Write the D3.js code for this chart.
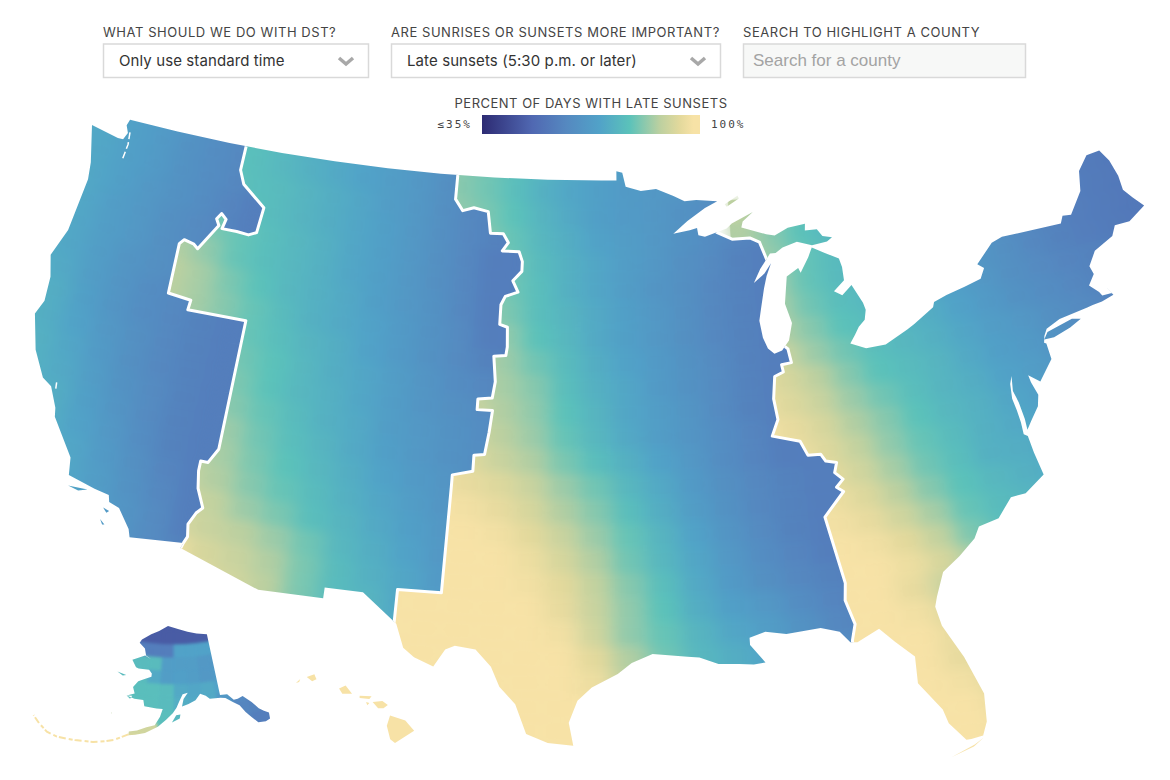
<!DOCTYPE html>
<html lang="en">
<head>
  <meta charset="UTF-8">
  <title>Percent of days with late sunsets</title>
  <style>
    html, body { margin: 0; background: #fff; }
    svg { display: block; }
    text { font-family: Inter, "Noto Sans", sans-serif; }
  </style>
  <script src="https://d3js.org/d3.v7.min.js"></script>
</head>
<body>
  <svg width="1170" height="780"></svg>

  <script>
    // Control labels
    var controlLabels = ["WHAT SHOULD WE DO WITH DST?", "ARE SUNRISES OR SUNSETS MORE IMPORTANT?", "SEARCH TO HIGHLIGHT A COUNTY"];
    var controlValues = ["Only use standard time", "Late sunsets (5:30 p.m. or later)", "Search for a county"];

    // Legend
    var legendTitle = "PERCENT OF DAYS WITH LATE SUNSETS";
    var legendTicks = ["\u226435%", "100%"];
    var colorStops = [35, 50, 60, 70, 79, 88, 94, 98];
    var colorValues = ["#2d2b73", "#5068b2", "#5588c0", "#51a2c8", "#5bc2ba", "#bcd0a0", "#e3d99c", "#f7e2a6"];

    // Percent of days. Rows run north to south, columns west to east.
    var pacificLon = -126, pacificLonStep = 1.5, pacificLatTop = 50;
    var pacificPercent = [
      [72,71,69,67,65,62,60,58],
      [72,71,69,67,64,62,60,58],
      [72,71,69,67,64,62,60,58],
      [73,71,69,66,64,62,59,57],
      [73,71,68,66,63,61,59,57],
      [73,71,68,66,63,61,59,57],
      [73,71,68,65,63,61,59,57],
      [73,72,68,65,62,60,59,57],
      [74,73,69,65,62,60,58,57],
      [75,73,70,66,63,60,58,57],
      [75,74,71,67,63,60,58,57],
      [75,74,72,68,64,61,58,57],
      [75,74,73,69,65,61,58,57],
      [75,74,73,70,66,62,58,57],
      [75,74,73,71,67,63,59,57],
      [75,74,73,71,68,64,60,57],
      [75,74,73,71,69,65,61,57],
      [75,74,73,71,69,65,61,58]
    ];

    var mountainLon = -119, mountainLonStep = 1.5, mountainLatTop = 50;
    var mountainPercent = [
      [80,79,78,76,73,72,70,68,66,63,60,58,58],
      [81,79,78,76,74,72,70,68,66,63,60,58,57],
      [82,80,78,77,75,73,71,68,66,63,60,58,57],
      [83,80,79,77,75,73,71,69,66,63,60,58,57],
      [85,82,80,78,76,74,71,69,66,63,60,57,57],
      [87,84,80,78,76,74,71,69,66,63,60,57,57],
      [88,86,82,79,76,74,72,69,66,64,60,57,57],
      [88,86,83,80,77,74,72,70,67,64,61,57,57],
      [88,86,83,80,78,75,73,70,67,64,61,58,57],
      [88,86,84,81,79,76,73,71,68,65,62,60,58],
      [89,87,85,82,79,76,74,71,68,65,63,61,60],
      [89,88,85,83,80,77,74,72,68,66,64,62,60],
      [90,89,87,85,81,78,75,72,69,66,64,62,60],
      [91,90,88,86,82,79,76,73,70,67,65,62,60],
      [92,91,89,87,83,80,77,74,71,68,65,63,60],
      [94,93,91,89,85,82,78,75,72,69,66,63,60],
      [96,95,92,90,88,85,81,76,73,70,66,63,60],
      [98,98,96,92,90,87,82,77,74,71,67,64,60],
      [100,100,97,93,91,88,82,77,75,71,67,64,60],
      [100,100,98,93,91,88,82,77,75,72,68,64,60]
    ];

    var centralLon = -106, centralLonStep = 1.5, centralLatTop = 50;
    var centralPercent = [
      [84,83,81,78,75,72,70,68,67,65,64,63,62,61,60],
      [85,83,81,78,74,71,69,67,66,65,63,62,61,60,59],
      [86,84,82,79,75,72,69,67,66,64,62,60,59,58,58],
      [87,85,83,80,76,73,70,68,66,64,62,59,58,57,57],
      [87,85,84,81,77,74,71,68,66,63,61,58,57,57,57],
      [88,86,84,81,78,74,71,68,65,63,60,58,57,57,57],
      [89,87,85,82,78,75,72,69,66,63,60,58,57,57,57],
      [90,88,86,84,79,76,72,69,66,63,60,58,57,57,57],
      [92,90,88,85,81,77,73,70,67,64,61,58,57,57,57],
      [93,91,88,86,83,78,74,71,67,64,61,58,57,57,57],
      [94,92,90,87,84,79,75,71,68,65,61,58,57,57,57],
      [96,94,91,88,85,80,76,72,68,65,62,59,57,57,57],
      [97,95,93,90,87,82,78,74,70,66,62,59,57,57,57],
      [98,97,95,93,90,85,81,76,72,67,63,60,58,57,57],
      [99,98,97,95,92,87,83,78,73,68,64,60,58,57,57],
      [100,99,98,97,94,90,85,80,75,70,65,61,58,57,57],
      [100,100,99,98,96,92,87,81,76,71,66,62,59,57,57],
      [100,100,100,99,97,94,89,83,78,72,67,63,60,58,57],
      [100,100,100,100,98,95,90,84,79,73,69,66,62,59,57],
      [100,100,100,100,99,97,91,84,80,75,71,68,64,60,58],
      [100,100,100,100,100,98,94,87,81,76,73,70,66,62,60],
      [100,100,100,100,100,99,96,88,82,77,74,71,67,64,62],
      [100,100,100,100,100,100,98,90,82,78,75,72,68,66,64],
      [100,100,100,100,100,100,99,92,83,78,75,72,69,67,65],
      [100,100,100,100,100,100,100,94,84,78,75,72,70,68,66]
    ];

    var easternLon = -89, easternLonStep = 1.5, easternLatTop = 48;
    var easternPercent = [
      [88,84,80,77,75,72,70,68,66,63,60,58,57,56,55],
      [87,83,79,76,74,72,70,68,65,62,60,58,57,56,55],
      [87,84,80,77,75,73,71,68,65,62,60,58,57,56,55],
      [88,85,80,77,75,73,71,68,65,63,60,58,57,56,55],
      [89,86,81,78,76,74,72,69,66,63,61,59,58,57,56],
      [91,87,83,79,77,75,73,70,67,64,62,60,58,57,56],
      [93,90,85,81,78,76,74,71,68,66,63,61,59,58,57],
      [95,92,88,83,79,77,75,72,69,67,64,62,60,59,58],
      [96,93,90,85,81,78,75,73,70,68,65,63,61,60,59],
      [97,95,92,87,83,79,76,74,71,69,66,64,62,61,60],
      [98,96,93,89,84,80,77,74,72,70,67,65,63,62,61],
      [99,97,94,91,86,81,78,74,73,71,68,66,64,63,62],
      [100,98,96,93,88,83,79,76,74,72,69,67,65,64,63],
      [100,99,97,95,91,86,80,77,75,73,70,68,66,65,64],
      [100,100,98,97,94,89,82,78,76,74,71,69,67,66,65],
      [100,100,99,98,96,92,86,80,77,75,72,70,68,67,66],
      [100,100,100,99,95,90,86,81,78,76,73,71,69,68,67],
      [100,100,100,99,97,93,88,83,79,77,74,72,70,69,68],
      [100,100,100,100,98,95,90,85,80,78,75,73,71,70,69],
      [100,100,100,100,99,95,91,86,81,79,76,74,72,71,70],
      [100,100,100,100,100,97,93,88,82,80,77,75,73,72,71],
      [100,100,100,100,100,100,95,90,84,81,78,76,74,73,72],
      [100,100,100,100,100,100,97,92,86,82,79,77,75,74,73],
      [100,100,100,100,100,100,98,94,88,83,80,78,76,75,74]
    ];

    var alaskaLon = -190, alaskaLonStep = 4, alaskaLatTop = 72.5, alaskaLatStep = 2;
    var alaskaPercent = [
      [47,47,47,47,47,47,47,47,47,47,47,47,47,47,47,47],
      [47,47,47,47,47,47,47,47,47,47,47,47,47,47,47,47],
      [57,57,57,57,57,57,57,57,57,70,70,70,70,70,70,70],
      [77,77,77,77,77,77,77,77,68,68,68,66,66,66,66,66],
      [77,77,77,77,77,77,77,72,68,69,68,66,67,67,67,67],
      [78,78,78,78,78,78,78,78,77,72,71,72,70,70,70,70],
      [78,78,78,78,78,78,78,78,77,73,72,72,66,60,58,58],
      [88,88,88,88,88,88,84,80,78,76,72,72,66,59,58,58],
      [99,99,99,99,99,96,91,91,78,76,72,72,66,58,57,57],
      [99,99,99,99,99,99,93,92,88,76,72,72,66,58,57,57],
      [99,99,99,99,99,99,99,99,99,99,99,99,99,99,99,99]
    ];
    var hawaiiPercent = 100;
    var aleutianPercent = 99;

    // Time zone lines as [lon, lat]
    var pacificMountainLine = [[-116.05,49],[-116.05,48],[-115.7,47.45],[-114.35,46.65],[-114.45,45.6],[-114.85,45.45],[-115.5,45.5],[-116.3,45.5],[-116.2,45.9],[-116.5,46.1],[-116.7,45.85],[-116.5,45.6],[-117.3,44.5],[-117.55,44.65],[-118.1,44.75],[-118.3,44.55],[-118.2,42.5],[-117,42.4],[-117.03,42],[-114.04,42],[-114.04,36.7],[-114.4,36.1],[-114.75,36.1],[-114.75,35.7],[-114.6,35],[-114.2,34.25],[-114.45,34],[-114.7,33.5],[-114.6,33],[-114.72,32.72],[-114.8,32.45]];
    var mountainCentralLine = [[-104.05,49],[-104.05,48],[-103.6,47.55],[-103,47.7],[-102.2,47.58],[-102,46.7],[-101.3,46.7],[-101,46.35],[-101.3,46],[-100.4,46],[-100.2,45.6],[-100.2,45.2],[-100.65,44.8],[-100.35,44.35],[-101,44.15],[-101.2,43.8],[-101.2,43],[-100.8,42.9],[-100.75,42.1],[-100.8,41.75],[-101.4,41.7],[-101.25,40.67],[-101.35,40],[-102.05,39.93],[-102.05,39.5],[-101.3,39.5],[-101.4,38.6],[-101.55,37.7],[-102.05,37.65],[-102.05,37],[-103,36.8],[-103,36.3],[-103.06,32],[-105,32],[-105,30.5]];
    var centralEasternLine = [[-89.45,52],[-89.45,49],[-89.4,47.8],[-89.75,46.72],[-88.95,46.4],[-88,46.4],[-87.5,46.2],[-87.2,45.45],[-86.8,45.3],[-86.85,44],[-86.9,43],[-86.9,42],[-86.6,41.77],[-86.5,41.2],[-87,41.15],[-86.95,40.85],[-87.4,40.7],[-87.56,39.8],[-87.45,38.95],[-87.8,38.3],[-86.5,38],[-86.2,37.4],[-85.6,37.4],[-85.4,37.1],[-84.9,37],[-85.05,36.6],[-84.7,36.3],[-85.05,36],[-84.75,35.8],[-85.75,34.85],[-85.2,32.1],[-85.3,31.4],[-85,30.4],[-85.2,29.75],[-85.4,28]];

    // Lower 48 coast and borders as [lon, lat], clockwise from the Strait of Georgia
    var mainlandOutline = [[-122.76,49],[-120,49],[-117,49],[-114,49],[-111,49],[-108,49],[-105,49],[-102,49],[-99,49],[-96,49],[-95.15,49],[-95.15,49.38],[-94.82,49.32],[-94.64,48.74],[-93.8,48.55],[-92.95,48.62],[-92,48.3],[-91.4,48.07],[-90.75,48.1],[-89.6,48],[-90.3,47.75],[-91.3,47.25],[-92.1,46.75],[-91.2,46.87],[-90.8,46.95],[-90.75,46.65],[-90.4,46.57],[-89.2,46.85],[-88.9,47.05],[-87.7,47.45],[-88.3,47.1],[-88.4,46.85],[-87.1,46.5],[-86.65,46.42],[-85.9,46.68],[-84.95,46.77],[-85,46.5],[-84.35,46.5],[-84.1,46.2],[-83.6,46.1],[-83.9,45.95],[-84.72,45.87],[-85.5,46.08],[-86.3,45.9],[-86.7,45.7],[-87,45.7],[-87.6,45.1],[-88,44.55],[-87.4,44.9],[-87,45.3],[-87.3,44.8],[-87.5,44.3],[-87.75,43.5],[-87.9,43],[-87.8,42.3],[-87.6,41.85],[-87.3,41.62],[-86.9,41.72],[-86.5,42.1],[-86.25,42.8],[-86.5,43.6],[-86.25,44.7],[-85.6,45],[-85.5,44.8],[-85,45.4],[-84.75,45.78],[-84.1,45.5],[-83.4,45.2],[-83.3,44.85],[-83.3,44.3],[-83.9,43.9],[-83.5,43.7],[-82.95,44.07],[-82.5,43.3],[-82.42,43],[-82.55,42.6],[-82.9,42.35],[-83.15,42.05],[-83.45,41.72],[-82.7,41.45],[-81.7,41.5],[-80.5,41.97],[-80.1,42.15],[-79,42.7],[-78.9,42.9],[-78.2,43.1],[-77.2,43.3],[-76.3,43.5],[-76,43.9],[-76.3,44.1],[-75.3,44.85],[-74.7,45],[-71.5,45.01],[-71.3,45.3],[-70.85,45.25],[-70,46.1],[-69.75,46.9],[-69.1,47.45],[-68.35,47.5],[-68,47],[-67.8,46.3],[-67.8,45.7],[-67.45,45.3],[-67,44.85],[-68,44.4],[-68.8,44.4],[-69.1,44],[-70.2,43.6],[-70.7,43.05],[-70.6,42.7],[-71,42.3],[-70.6,41.95],[-70.5,41.78],[-70,41.78],[-70.2,42.07],[-69.95,41.7],[-70.6,41.55],[-71.1,41.5],[-71.4,41.45],[-72.9,41.25],[-73.65,40.98],[-73.85,40.72],[-73.95,40.45],[-73.85,40.4],[-73.8,39.75],[-74.6,38.95],[-75.1,39.3],[-75.05,39],[-74.85,38.45],[-75,38],[-75.45,37.5],[-75.75,37.15],[-75.75,37.6],[-75.85,38.3],[-76,38.8],[-75.9,39.4],[-76.05,39.1],[-76.12,38.5],[-76.03,38],[-75.97,37.5],[-75.97,37],[-75.8,36.9],[-75.7,36.2],[-75.5,35.25],[-76.5,34.65],[-77.2,34.6],[-77.95,33.85],[-78.9,33.65],[-79.2,33.2],[-80,32.6],[-80.85,32.05],[-81.3,31.1],[-81.45,30.7],[-81.3,29.9],[-80.6,28.5],[-80.05,26.9],[-80.15,25.75],[-80.4,25.2],[-80.9,25.13],[-81.1,25.13],[-81.7,25.9],[-81.85,26.5],[-82.7,27.7],[-82.65,28.8],[-83.4,29.5],[-84,30.1],[-85,29.65],[-85.3,29.68],[-85.7,30.15],[-86.5,30.38],[-88,30.25],[-88.9,30.4],[-89.6,30.2],[-89.6,29.9],[-89,29.15],[-89.5,29.1],[-90.1,29.15],[-91,29.2],[-91.8,29.5],[-92.3,29.55],[-93.8,29.7],[-94.7,29.35],[-95.3,28.9],[-96.4,28.35],[-97,27.8],[-97.35,26.9],[-97.15,25.95],[-98.2,26.05],[-99.1,26.4],[-99.6,27.6],[-100.3,28.3],[-100.7,29.1],[-101.4,29.77],[-102.3,29.88],[-102.7,29.7],[-103.15,28.98],[-104,29.3],[-104.5,29.65],[-104.9,30.6],[-106.5,31.75],[-108.2,31.78],[-108.2,31.33],[-111.07,31.33],[-114.8,32.5],[-114.72,32.72],[-117.12,32.53],[-117.25,32.85],[-117.9,33.6],[-118.4,33.75],[-118.5,34.03],[-119.2,34.15],[-120.5,34.45],[-120.65,35.15],[-121.9,36.6],[-122,36.95],[-122.5,37.75],[-123,38],[-123.75,39],[-124.35,40.4],[-124.1,41],[-124.2,42],[-124.55,42.85],[-124.1,44],[-123.95,46.2],[-124.1,46.9],[-124.7,48.38],[-123.1,48.15],[-122.8,48.15],[-122.65,48.45],[-122.85,48.75]];
    var longIsland = [[-73.9,40.58],[-73.65,40.85],[-72.3,41.15],[-71.87,41.07],[-72.5,40.82],[-73.4,40.58]];
    var isleRoyale = [[-89.2,47.85],[-88.45,48.18],[-88.4,48.05],[-89.1,47.75]];
    var floridaKeys = [[-80.4,25.1],[-80.85,24.8],[-81.8,24.5],[-81.5,24.62],[-80.8,24.88]];
    var channelIslands = [[[-120.4,34.03],[-119.5,34.05],[-119.9,33.93]], [[-118.6,33.48],[-118.3,33.4],[-118.4,33.3]], [[-118.6,33],[-118.35,32.82],[-118.45,32.8]]];

    // Narrow water drawn over the land
    var waterLines = [
      [[-122.55,48.5],[-122.45,48],[-122.5,47.4]],
      [[-122.3,37.95],[-122.25,37.7]]
    ];

    var alaskaOutline = [[-141,69.65],[-145,70],[-148.5,70.4],[-152,70.85],[-156.5,71.35],[-160,70.5],[-163,69.9],[-166.2,68.9],[-166.8,68.35],[-164.5,67.6],[-163.7,66.6],[-161.8,66.1],[-164,66.55],[-168,65.6],[-166.3,64.6],[-165.4,64.5],[-162,64.5],[-161,64],[-161,63.5],[-163,63.05],[-164.8,62.6],[-166,61.6],[-165.2,60.7],[-167.3,60.2],[-165,59.9],[-162.5,59.9],[-162,59],[-158.7,58.8],[-157,58.8],[-157.6,57.6],[-158.8,56.3],[-160.8,55.9],[-163,55.25],[-164.9,54.95],[-164.9,54.35],[-163.3,54.6],[-161,55],[-158,56.1],[-156,57.2],[-154.3,58.2],[-153.3,59],[-152.5,60],[-151.5,61],[-150,61.2],[-151.3,60.3],[-151.8,59.2],[-150,59.5],[-148,60],[-146.5,60.9],[-145,60.5],[-144,60],[-141,59.9],[-139.7,59.7],[-138,58.9],[-136.5,58.2],[-135.5,57],[-134.5,56.1],[-133.3,55],[-131.5,54.8],[-130.3,55],[-130,55.9],[-131,56.4],[-132,57],[-133.2,58.2],[-135,59.4],[-136.5,59.2],[-137.6,59.2],[-139,60.2],[-141,60.3]];
    var alaskaIslands = [
      [[-154.5,56.8],[-152.5,57.4],[-152.3,58],[-153.4,57.9]],
      [[-171.7,63.4],[-168.8,63.2],[-169.8,63]],
      [[-167.3,60.2],[-165.7,60.3],[-166.2,59.8]],
      [[-170.3,57.2],[-170,57.25],[-170.1,57.1]]
    ];
    var aleutianChain = [[-164.9,54.5],[-166.5,53.9],[-168,53.3],[-170,52.8],[-172.5,52.3],[-174.5,52.1],[-176.5,51.8],[-178.5,51.6],[-180.5,51.4],[-183,51.5],[-185.5,52.2],[-187.5,52.9]];

    var hawaiiIslands = [
      [[-155.9,20.25],[-155.2,20],[-154.8,19.5],[-155.68,18.92],[-155.9,19.1],[-156.05,19.75]],
      [[-156.7,20.9],[-156.25,20.95],[-156,20.75],[-156.2,20.6],[-156.45,20.6]],
      [[-157.3,21.2],[-156.75,21.18],[-156.85,21.05],[-157.3,21.1]],
      [[-157,20.9],[-156.85,20.85],[-156.95,20.75]],
      [[-158.25,21.55],[-157.95,21.7],[-157.65,21.3],[-158.1,21.3]],
      [[-159.75,22.1],[-159.4,22.23],[-159.3,22],[-159.5,21.9]],
      [[-160.25,21.8],[-160.05,22],[-160.1,21.85]]
    ];

    var svg = d3.select("svg");
    var defs = svg.append("defs");

    var color = d3.scaleLinear().domain(colorStops).range(colorValues).clamp(true);

    // The map is a conic projection stretched on to the page by two linear scales
    function makeMap(conic, a, b) {
      conic.scale(1).translate([0, 0]).center([0, 0]);
      var pa = conic(a[0]), pb = conic(b[0]);
      var x = d3.scaleLinear().domain([pa[0], pb[0]]).range([a[1][0], b[1][0]]);
      var y = d3.scaleLinear().domain([pa[1], pb[1]]).range([a[1][1], b[1][1]]);
      return function(c) {
        var p = conic(c);
        return [x(p[0]), y(p[1])];
      };
    }

    var mainMap = makeMap(d3.geoConicEqualArea().parallels([29.5, 45.5]).rotate([96, 0]),
      [[-124.7, 48.38], [92, 125]], [[-81, 25.1], [969, 740]]);
    var alaskaMap = makeMap(d3.geoConicEqualArea().parallels([55, 65]).rotate([154, 0]),
      [[-156.5, 71.35], [168, 626]], [[-130, 54.7], [272, 720]]);
    var hawaiiMap = makeMap(d3.geoConicEqualArea().parallels([8, 18]).rotate([157, 0]),
      [[-160.2, 21.9], [297, 681]], [[-155.68, 18.92], [395, 743]]);

    var line = d3.line();
    function ringPath(ring, map) { return line(ring.map(map)) + "Z"; }

    function addClip(id, d) {
      defs.append("clipPath").attr("id", id).append("path").attr("d", d);
    }

    // Soft blending between neighbouring cells, so the grid reads like small counties
    function addSoften(id, deviation) {
      var f = defs.append("filter").attr("id", id)
        .attr("filterUnits", "userSpaceOnUse")
        .attr("x", 0).attr("y", 0).attr("width", 1170).attr("height", 780)
        .attr("color-interpolation-filters", "sRGB");
      f.append("feGaussianBlur").attr("in", "SourceGraphic").attr("stdDeviation", deviation).attr("result", "soft");
      var merge = f.append("feMerge");
      merge.append("feMergeNode").attr("in", "SourceGraphic");
      merge.append("feMergeNode").attr("in", "soft");
    }
    addSoften("soften", "10 6");
    addSoften("soften-alaska", 1.5);

    function drawGrid(parent, rows, lon0, lonStep, latTop, latStep, map) {
      var cells = [];
      rows.forEach(function(row, i) {
        row.forEach(function(v, j) {
          cells.push({ value: v, w: lon0 + j * lonStep, e: lon0 + (j + 1) * lonStep, n: latTop - i * latStep, s: latTop - (i + 1) * latStep });
        });
      });
      parent.selectAll("path.cell")
        .data(cells)
        .join("path")
        .attr("class", "cell")
        .attr("d", function(d) { return ringPath([[d.w, d.n], [d.e, d.n], [d.e, d.s], [d.w, d.s]], map); })
        .attr("fill", function(d) { return color(d.value); })
        .attr("stroke", function(d) { return color(d.value); })
        .attr("stroke-width", 0.6);
    }

    // Lower 48: land mask, then one clipped grid per time zone
    var landPath = [mainlandOutline, longIsland, isleRoyale, floridaKeys].concat(channelIslands)
      .map(function(r) { return ringPath(r, mainMap); }).join("");
    addClip("land", landPath);

    var farWest = [[-130, 30], [-130, 52]];
    var zones = [
      { id: "pacific", ring: farWest.concat([[-116.05, 52]], pacificMountainLine, [[-114.8, 30]]), rows: pacificPercent, lon: pacificLon, step: pacificLonStep, top: pacificLatTop },
      { id: "mountain", ring: [[-116.05, 52]].concat(pacificMountainLine, [[-114.8, 30], [-105, 30]], mountainCentralLine.slice().reverse(), [[-104.05, 52]]), rows: mountainPercent, lon: mountainLon, step: mountainLonStep, top: mountainLatTop },
      { id: "central", ring: [[-104.05, 52]].concat(mountainCentralLine, [[-105, 24], [-85.4, 24]], centralEasternLine.slice().reverse()), rows: centralPercent, lon: centralLon, step: centralLonStep, top: centralLatTop },
      { id: "eastern", ring: centralEasternLine.concat([[-85.4, 22], [-60, 22], [-60, 52]]), rows: easternPercent, lon: easternLon, step: easternLonStep, top: easternLatTop }
    ];

    var landGroup = svg.append("g").attr("clip-path", "url(#land)");
    zones.forEach(function(z) {
      addClip("zone-" + z.id, ringPath(z.ring, mainMap));
      var g = landGroup.append("g")
        .attr("clip-path", "url(#zone-" + z.id + ")")
        .attr("filter", "url(#soften)");
      drawGrid(g, z.rows, z.lon, z.step, z.top, 1, mainMap);
    });

    landGroup.selectAll("path.zone-line")
      .data([pacificMountainLine, mountainCentralLine, centralEasternLine])
      .join("path")
      .attr("class", "zone-line")
      .attr("d", function(d) { return line(d.map(mainMap)); })
      .attr("fill", "none")
      .attr("stroke", "#fff")
      .attr("stroke-width", 3)
      .attr("stroke-linejoin", "round");

    svg.selectAll("path.water")
      .data(waterLines)
      .join("path")
      .attr("class", "water")
      .attr("d", function(d) { return line(d.map(mainMap)); })
      .attr("fill", "none")
      .attr("stroke", "#fff")
      .attr("stroke-width", 1.5)
      .attr("stroke-dasharray", "7 3");

    // Alaska
    var alaskaLand = [alaskaOutline].concat(alaskaIslands).map(function(r) { return ringPath(r, alaskaMap); }).join("");
    addClip("alaska", alaskaLand);
    var alaskaGroup = svg.append("g").attr("clip-path", "url(#alaska)").attr("filter", "url(#soften-alaska)");
    drawGrid(alaskaGroup, alaskaPercent, alaskaLon, alaskaLonStep, alaskaLatTop, alaskaLatStep, alaskaMap);

    svg.append("path")
      .attr("d", line(aleutianChain.map(alaskaMap)))
      .attr("fill", "none")
      .attr("stroke", color(aleutianPercent))
      .attr("stroke-width", 2)
      .attr("stroke-dasharray", "7 2 4 3");

    // Hawaii
    svg.selectAll("path.hawaii")
      .data(hawaiiIslands)
      .join("path")
      .attr("class", "hawaii")
      .attr("d", function(d) { return ringPath(d, hawaiiMap); })
      .attr("fill", color(hawaiiPercent));

    // Controls across the top
    var boxes = [
      { x: 103, w: 265, select: true },
      { x: 391, w: 329, select: true },
      { x: 743, w: 282, select: false }
    ];
    var controls = svg.selectAll("g.control")
      .data(boxes)
      .join("g")
      .attr("class", "control");

    controls.append("text")
      .attr("x", function(d) { return d.x; })
      .attr("y", 37)
      .attr("font-size", 13)
      .attr("letter-spacing", 0.55)
      .attr("fill", "#444")
      .text(function(d, i) { return controlLabels[i]; });

    controls.append("rect")
      .attr("x", function(d) { return d.x + 0.5; })
      .attr("y", 44)
      .attr("width", function(d) { return d.w; })
      .attr("height", 33.5)
      .attr("fill", function(d) { return d.select ? "#fff" : "#f7f8f7"; })
      .attr("stroke", "#d9d9d9")
      .attr("stroke-width", 1.5);

    controls.append("text")
      .attr("x", function(d) { return d.x + (d.select ? 16 : 10); })
      .attr("y", 66)
      .attr("font-size", function(d) { return d.select ? 15 : 17; })
      .attr("letter-spacing", function(d) { return d.select ? 0.1 : 0; })
      .style("font-family", function(d) { return d.select ? null : "'Liberation Sans', sans-serif"; })
      .attr("fill", function(d) { return d.select ? "#333" : "#a3a3a3"; })
      .text(function(d, i) { return controlValues[i]; });

    controls.filter(function(d) { return d.select; })
      .append("path")
      .attr("d", function(d) {
        var cx = d.x + d.w - 22;
        return "M" + (cx - 7) + ",58L" + cx + ",64L" + (cx + 7) + ",58";
      })
      .attr("fill", "none")
      .attr("stroke", "#a8a8a8")
      .attr("stroke-width", 3.5);

    // Legend
    var gradient = defs.append("linearGradient").attr("id", "legend-gradient");
    gradient.selectAll("stop")
      .data(colorStops)
      .join("stop")
      .attr("offset", function(d) { return (d - 35) / 65; })
      .attr("stop-color", function(d) { return color(d); });

    svg.append("text")
      .attr("x", 591)
      .attr("y", 108)
      .attr("text-anchor", "middle")
      .attr("font-size", 13)
      .attr("letter-spacing", 0.5)
      .attr("fill", "#444")
      .text(legendTitle);

    svg.append("rect")
      .attr("x", 482)
      .attr("y", 115)
      .attr("width", 218)
      .attr("height", 19)
      .attr("fill", "url(#legend-gradient)");

    svg.selectAll("text.legend-tick")
      .data(legendTicks)
      .join("text")
      .attr("class", "legend-tick")
      .attr("x", function(d, i) { return i === 0 ? 472 : 711; })
      .attr("y", 128)
      .attr("text-anchor", function(d, i) { return i === 0 ? "end" : "start"; })
      .attr("font-size", 11)
      .attr("letter-spacing", 2)
      .style("font-family", "'DejaVu Sans Mono', monospace")
      .attr("fill", "#444")
      .text(function(d) { return d; });
  </script>
</body>
</html>
